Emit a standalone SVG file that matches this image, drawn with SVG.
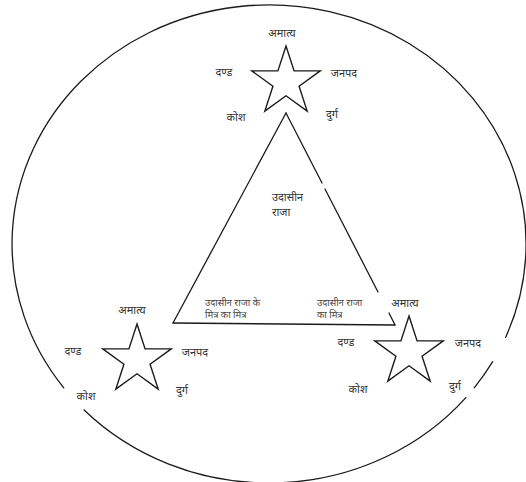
<svg xmlns="http://www.w3.org/2000/svg" xmlns:xlink="http://www.w3.org/1999/xlink" width="526" height="482" viewBox="0 0 526 482">
<style>
  .line { fill: none; stroke: #1a1a1a; stroke-width: 1.3; stroke-linecap: round; }
  .star { fill: #ffffff; stroke: #1a1a1a; stroke-width: 1.4; stroke-linejoin: miter; }
  .lbl { font-family: "Noto Sans", "Lohit Devanagari", "Noto Sans Devanagari", sans-serif; font-size: 11px; fill: #333333; text-anchor: middle; }
  .in { font-family: "Noto Sans", "Lohit Devanagari", "Noto Sans Devanagari", sans-serif; font-size: 11px; fill: #333333; }
  .sm { font-family: "Noto Sans", "Lohit Devanagari", "Noto Sans Devanagari", sans-serif; font-size: 9.5px; fill: #444444; }
</style>
<defs>
  <polygon id="star" points="0,-36 8.08,-11.12 34.24,-11.12 13.08,4.25 21.16,29.12 0,13.75 -21.16,29.12 -13.08,4.25 -34.24,-11.12 -8.08,-11.12"/>
</defs>
<rect width="526" height="482" fill="#ffffff"/>
<g id="connectors">
  <path id="outer-circle" class="line" d="M84.1,410 A257,239 0 0 0 465.9,397.6 M474.2,387.8 A257,239 0 0 0 492.7,361.7 M505.6,337.4 A257,239 0 1 0 63.8,387.8"/>
  <g id="triangle">
    <line class="line" x1="286" y1="113" x2="173" y2="323"/>
    <line class="line" x1="173" y1="323" x2="395" y2="325"/>
    <line class="line" x1="286" y1="113" x2="322" y2="183"/>
    <line class="line" x1="325" y1="189" x2="378" y2="292"/>
    <line class="line" x1="389" y1="313" x2="395" y2="325"/>
  </g>
</g>
<g id="udasin-raja">
  <text class="in" x="272" y="201">उदासीन</text>
  <text class="in" x="272" y="216">राजा</text>
</g>
<g id="mitra-ka-mitra">
  <text class="sm" x="205" y="306">उदासीन राजा के</text>
  <text class="sm" x="205" y="318">मित्र का मित्र</text>
</g>
<g id="mitra">
  <text class="sm" x="317" y="306">उदासीन राजा</text>
  <text class="sm" x="317" y="318">का मित्र</text>
</g>
<g id="star-top">
  <use xlink:href="#star" href="#star" class="star" transform="translate(286,82)"/>
  <text class="lbl" x="282" y="37">अमात्य</text>
  <text class="lbl" x="224" y="76">दण्ड</text>
  <text class="lbl" x="344" y="77">जनपद</text>
  <text class="lbl" x="236" y="121">कोश</text>
  <text class="lbl" x="332" y="118">दुर्ग</text>
</g>
<g id="star-left">
  <use xlink:href="#star" href="#star" class="star" transform="translate(137,360)"/>
  <text class="lbl" x="132" y="314">अमात्य</text>
  <text class="lbl" x="73" y="355">दण्ड</text>
  <text class="lbl" x="195" y="356">जनपद</text>
  <text class="lbl" x="86" y="400">कोश</text>
  <text class="lbl" x="182" y="394">दुर्ग</text>
</g>
<g id="star-right">
  <use xlink:href="#star" href="#star" class="star" transform="translate(409,352)"/>
  <text class="lbl" x="405" y="307">अमात्य</text>
  <text class="lbl" x="346" y="346">दण्ड</text>
  <text class="lbl" x="468" y="347">जनपद</text>
  <text class="lbl" x="358" y="393">कोश</text>
  <text class="lbl" x="455" y="390">दुर्ग</text>
</g>
</svg>
